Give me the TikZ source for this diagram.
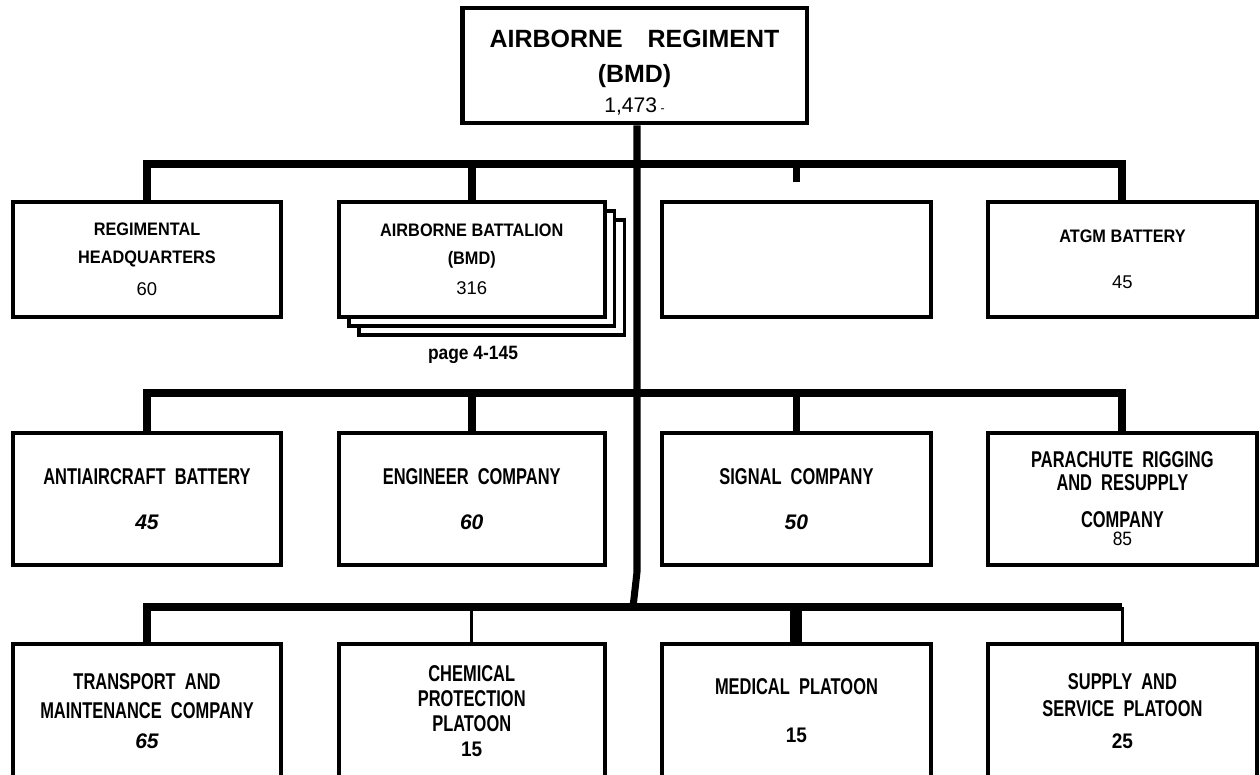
\documentclass[tikz,border=0pt]{standalone}
\usepackage{fontspec}
\setmainfont{Liberation Sans}
\newfontfamily\narrowfont[FakeStretch=0.72]{Liberation Sans}
\newfontfamily\halfnarrow[FakeStretch=0.9]{Liberation Sans}
\usetikzlibrary{positioning,shadows}
\tikzset{
  unit/.style={rectangle, draw, line width=2.3pt, fill=white, align=center,
    inner sep=0pt, minimum width=5.37cm},
  toprow/.style={unit, minimum height=2.3cm,
    font={\halfnarrow\bfseries\fontsize{10.3}{16}\selectfont}},
  midrow/.style={unit, minimum height=2.64cm,
    font={\narrowfont\bfseries\fontsize{13}{16}\selectfont\spaceskip=0.4em}},
  lowrow/.style={unit, minimum height=2.68cm,
    font={\narrowfont\bfseries\fontsize{13}{16.5}\selectfont\spaceskip=0.4em}},
  bus/.style={line width=4.5pt, line join=miter},
  thindrop/.style={line width=1.7pt},
  widedrop/.style={line width=6.8pt},
  trunk/.style={line width=4pt, line join=miter},
  xref/.style={font={\halfnarrow\bfseries\fontsize{11}{13}\selectfont}, inner sep=0pt},
}
\newcommand\plainnum[1]{{\normalfont\fontsize{10.5}{12}\selectfont #1}}
\newcommand\slantnum[1]{{\normalfont\bfseries\itshape\fontsize{12}{12}\selectfont #1}}
\newcommand\heavynum[1]{{\halfnarrow\bfseries\fontsize{12}{12}\selectfont #1}}

\begin{document}
\begin{tikzpicture}[x=0.02cm, y=-0.02cm]
  \useasboundingbox (0,0) rectangle (1260,774);
  \clip (0,0) rectangle (1260,774);
  % regiment
  \node[unit, minimum width=6.9cm, minimum height=2.3cm, line width=2.8pt,
    text height=1.92cm, font={\bfseries\fontsize{14.2}{19.8}\selectfont}] (reg) at (634.5,65.5)
    {AIRBORNE\hspace{0.5cm}REGIMENT\\(BMD)\\[-2.8pt]{\mdseries\fontsize{12}{14}\selectfont 1,473\,{\fontsize{7}{7}\selectfont -}}};
  % first row
  \node[toprow] (hq) at (147,259.5) {REGIMENTAL\\HEADQUARTERS\\[2pt]\plainnum{60}};
  \node[toprow, right=1.07cm of hq, minimum width=5.32cm,
    double copy shadow={shadow xshift=0.2cm, shadow yshift=-0.18cm, line width=2pt}] (bn)
    {AIRBORNE BATTALION\\(BMD)\\[1pt]\plainnum{316}};
  \node[toprow, right=1.07cm of bn] (emp) {};
  \node[toprow, right=1.07cm of emp] (atgm) {ATGM BATTERY\\[10pt]\plainnum{45}};
  \node[xref, anchor=base] (pg) at (473,359) {page 4-145};
  % second row
  \node[midrow, below=2.24cm of hq] (aa) {ANTIAIRCRAFT BATTERY\\[10pt]\slantnum{45}};
  \node[midrow, right=1.07cm of aa, minimum width=5.32cm] (eng) {ENGINEER COMPANY\\[10pt]\slantnum{60}};
  \node[midrow, right=1.07cm of eng] (sig) {SIGNAL COMPANY\\[10pt]\slantnum{50}};
  \node[midrow, right=1.07cm of sig] (pr)
    {PARACHUTE RIGGING\\[-3pt]AND RESUPPLY\\[5pt]COMPANY\\[-5.5pt]{\halfnarrow\mdseries\fontsize{11}{11}\selectfont 85}};
  % third row
  \node[lowrow, below=1.5cm of aa] (tm) {TRANSPORT AND\\MAINTENANCE COMPANY\\[0.5pt]\slantnum{65}};
  \node[lowrow, right=1.07cm of tm, minimum width=5.32cm] (chem)
    {CHEMICAL\\[-2.3pt]PROTECTION\\[-2.3pt]PLATOON\\[-2.3pt]\heavynum{15}};
  \node[lowrow, right=1.07cm of chem] (med) {MEDICAL PLATOON\\[10.7pt]\heavynum{15}};
  \node[lowrow, right=1.07cm of med] (ss) {SUPPLY AND\\[-1.2pt]SERVICE PLATOON\\[1.6pt]\heavynum{25}};
  % buses
  \coordinate (b1) at (637,164);
  \coordinate (b2) at (637,393);
  \coordinate (b3) at (633,607);
  \coordinate (kink) at (637,572);
  \draw[trunk] (reg.south -| kink) -- (kink) -- (b3);
  \draw[bus] (hq.north) |- (b1) -| (atgm.north);
  \draw[bus] (bn.north) -- (bn.north |- b1);
  \draw[bus] (emp.north |- b1) -- ++(0,18);
  \draw[bus] (aa.north) |- (b2) -| (pr.north);
  \draw[bus] (eng.north) -- (eng.north |- b2);
  \draw[bus] (sig.north) -- (sig.north |- b2);
  \draw[bus] (tm.north) |- (b3) -- (b3 -| ss.north);
  \draw[thindrop] (chem.north) -- (chem.north |- b3);
  \draw[widedrop] (med.north) -- (med.north |- b3);
  \draw[thindrop] (ss.north) -- (ss.north |- b3);
\end{tikzpicture}
\end{document}
